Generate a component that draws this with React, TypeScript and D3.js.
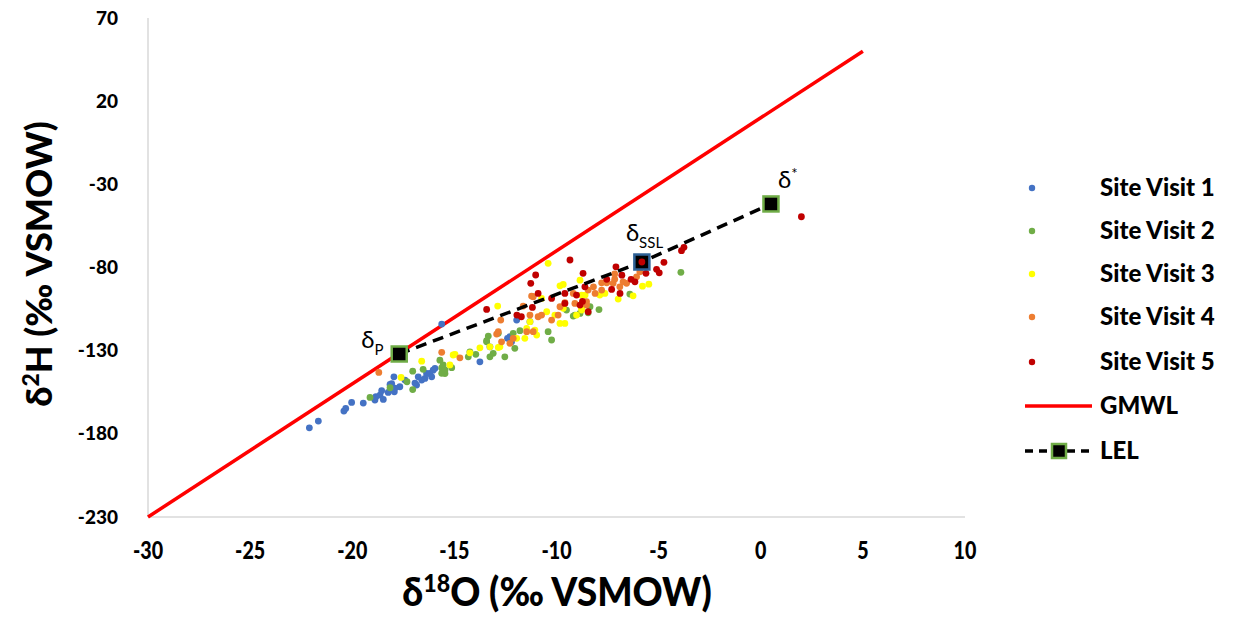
import React from "react";
import * as d3 from "d3";

// δ18O, δ2H pairs (‰ VSMOW)
const visit1: [number, number][] = [
  [-22.1, -176.4], [-21.66, -172.3], [-20.41, -166.3], [-20.32, -164.7], [-20.03, -161.1],
  [-19.46, -161.5], [-18.89, -159.7], [-18.84, -157.7], [-18.64, -156.7], [-18.56, -154.1],
  [-18.48, -159.3], [-18.24, -155.1], [-18.15, -150.3], [-17.96, -145.7], [-17.94, -154.7],
  [-17.67, -151.7], [-17.42, -147.7], [-18.07, -149.8], [-17.91, -152.5], [-16.85, -150.7],
  [-16.77, -145.7], [-16.6, -147.7], [-16.44, -146.7], [-16.36, -143.7], [-16.2, -143.7],
  [-16.11, -145.7], [-16.04, -141.7], [-15.95, -140.6], [-16.93, -149.5], [-15.62, -114.0],
  [-13.75, -136.7], [-13.26, -127.7], [-12.28, -121.6], [-12.2, -124.7], [-11.95, -111.6],
  [-11.3, -112.6], [-12.4, -122.6],
];
const visit2: [number, number][] = [
  [-19.13, -158.1], [-18.15, -152.3], [-17.32, -148.7], [-15.71, -135.7], [-16.53, -141.2],
  [-17.04, -142.3], [-15.62, -140.4], [-15.46, -143.8], [-17.04, -153.4], [-15.13, -140.2],
  [-15.62, -143.6], [-14.32, -133.7], [-13.34, -121.2], [-13.42, -124.7], [-13.1, -131.6],
  [-13.95, -132.2], [-11.79, -118.0], [-12.12, -119.6], [-12.85, -119.6], [-10.41, -118.6],
  [-10.24, -123.6], [-12.04, -128.6], [-14.24, -130.7], [-13.26, -133.7], [-12.53, -133.7],
  [-15.55, -138.6], [-15.46, -141.6], [-9.51, -105.6], [-9.1, -108.6], [-8.85, -107.6],
  [-8.36, -103.6], [-6.41, -96.0], [-7.92, -105.3], [-9.18, -109.2], [-8.45, -107.2],
  [-3.91, -82.9], [-13.42, -124.0],
];
const visit3: [number, number][] = [
  [-17.61, -146.1], [-16.6, -136.3], [-14.97, -132.2], [-15.22, -138.6], [-14.24, -131.3],
  [-13.75, -128.3], [-13.26, -127.7], [-12.85, -128.1], [-15.06, -132.6], [-12.77, -127.7],
  [-11.95, -122.6], [-11.06, -117.6], [-10.97, -120.6], [-11.55, -122.6], [-11.46, -116.6],
  [-11.3, -112.6], [-10.48, -106.6], [-10.08, -108.6], [-10.73, -98.6], [-12.88, -103.2],
  [-10.41, -77.5], [-9.83, -91.0], [-9.67, -90.2], [-9.83, -113.6], [-9.59, -113.6],
  [-9.67, -104.5], [-9.02, -108.6], [-8.85, -87.6], [-8.77, -96.6], [-8.6, -96.6],
  [-8.77, -104.5], [-7.88, -96.6], [-7.63, -95.6], [-6.98, -99.0], [-6.25, -97.0],
  [-5.79, -91.2], [-5.48, -90.0], [-8.77, -105.6],
];
const visit4: [number, number][] = [
  [-18.7, -143.1], [-15.62, -131.0], [-14.73, -134.3], [-12.93, -120.0], [-11.63, -103.2],
  [-11.14, -97.6], [-12.73, -111.6], [-10.9, -109.6], [-10.73, -108.6], [-10.24, -111.6],
  [-11.14, -118.6], [-12.12, -122.6], [-12.69, -124.7], [-11.22, -97.2], [-11.3, -108.6],
  [-11.46, -118.6], [-12.85, -118.6], [-12.28, -125.6], [-9.92, -108.6], [-9.83, -103.6],
  [-9.1, -101.6], [-8.53, -100.6], [-9.18, -95.6], [-9.59, -101.2], [-8.45, -93.6],
  [-8.19, -91.6], [-8.11, -95.6], [-7.79, -89.2], [-7.54, -89.2], [-7.23, -89.5],
  [-7.15, -87.0], [-6.9, -91.6], [-6.74, -88.6], [-6.57, -89.5], [-6.08, -85.6],
  [-5.92, -82.6], [-7.79, -93.6], [-8.53, -102.6], [-7.15, -83.9],
];
const visit5: [number, number][] = [
  [-13.42, -105.2], [-11.94, -108.6], [-11.72, -109.6], [-11.18, -104.0], [-11.02, -84.5],
  [-11.26, -89.5], [-10.9, -95.6], [-9.34, -75.5], [-10.24, -98.6], [-9.59, -101.6],
  [-9.02, -96.6], [-8.7, -83.5], [-8.61, -91.6], [-8.85, -102.6], [-8.45, -106.6],
  [-9.59, -95.6], [-8.73, -100.4], [-7.54, -87.1], [-7.09, -79.6], [-6.8, -84.6],
  [-6.35, -87.1], [-6.16, -88.6], [-7.3, -93.2], [-5.62, -83.5], [-5.1, -81.1],
  [-4.97, -83.2], [-4.74, -76.9], [-3.88, -69.9], [-3.76, -67.9], [-5.82, -76.7],
  [1.99, -49.5], [-6.89, -95.6],
];

const seriesNames = ["Site Visit 1", "Site Visit 2", "Site Visit 3", "Site Visit 4", "Site Visit 5"];
const seriesColors = ["#4472C4", "#70AD47", "#FFFF00", "#ED7D31", "#C00000"];
const seriesData = [visit1, visit2, visit3, visit4, visit5];

// GMWL: δ2H = 8 δ18O + 10
const gmwlX = [-30, 5];
// LEL: δP, δSSL, δ*
const lelPoints: [number, number][] = [[-17.7, -132], [-5.82, -76.7], [0.5, -41.8]];

const xTicks = [-30, -25, -20, -15, -10, -5, 0, 5, 10];
const yTicks = [70, 20, -30, -80, -130, -180, -230];

const W = 1238, H = 620;
const left = 148, right = 965, top = 18, bottom = 517;
const font = "Lato, 'Open Sans', sans-serif";

export default function App() {
  const x = d3.scaleLinear().domain([-30, 10]).range([left, right]);
  const y = d3.scaleLinear().domain([-230, 70]).range([bottom, top]);
  const line = d3.line<[number, number]>().x(d => x(d[0])).y(d => y(d[1]));
  const gmwl: [number, number][] = gmwlX.map(v => [v, 8 * v + 10]);
  const sq = 15;
  const lelStroke = ["#70AD47", "#2E6196", "#70AD47"];

  const legendX = 1032, legendTextX = 1100;
  const legendY = [188, 231, 274, 317, 362, 406, 451];
  const lfs = 24;

  return (
    <svg width={W} height={H} style={{ position: "absolute", left: 0, top: 0, background: "#fff" }}>
      {/* axes */}
      <line x1={left} x2={left} y1={top} y2={bottom} stroke="#d9d9d9" strokeWidth={1.5} />
      <line x1={left} x2={right} y1={bottom} y2={bottom} stroke="#d9d9d9" strokeWidth={1.5} />
      {yTicks.map(t => (
        <text key={t} x={118} y={y(t)} dy="0.35em" textAnchor="end" fontFamily={font}
          fontWeight={900} fontSize={19}>{t}</text>
      ))}
      {xTicks.map(t => (
        <text key={t} transform={`translate(${x(t)},${559}) scale(0.82,1)`} textAnchor="middle"
          fontFamily={font} fontWeight={900} fontSize={24}>{t}</text>
      ))}
      <text transform={`translate(${557},${606}) scale(0.93,1)`} textAnchor="middle" fontFamily={font}
        fontWeight={900} fontSize={40}>
        δ<tspan fontSize={25} dy={-14}>18</tspan><tspan dy={14}>O (‰ VSMOW)</tspan>
      </text>
      <text transform={`translate(${52},${264}) rotate(-90)`} textAnchor="middle" fontFamily={font}
        fontWeight={900} fontSize={36}>
        δ<tspan fontSize={23} dy={-13}>2</tspan><tspan dy={13}>H (‰ VSMOW)</tspan>
      </text>

      {/* GMWL */}
      <path d={line(gmwl) ?? ""} fill="none" stroke="#FF0000" strokeWidth={3.5} />

      {/* scatter */}
      {seriesData.map((s, i) => (
        <g key={i} fill={seriesColors[i]}>
          {s.map((d, j) => <circle key={j} cx={x(d[0])} cy={y(d[1])} r={3.4} />)}
        </g>
      ))}

      {/* LEL */}
      <path d={line(lelPoints) ?? ""} fill="none" stroke="#000" strokeWidth={3.5} strokeDasharray="11,7" />
      {lelPoints.map((d, i) => (
        <rect key={i} x={x(d[0]) - sq / 2} y={y(d[1]) - sq / 2} width={sq} height={sq}
          fill="#000" stroke={lelStroke[i]} strokeWidth={2.5} />
      ))}
      <circle cx={x(visit5[29][0])} cy={y(visit5[29][1])} r={3.4} fill="#C00000" />

      {/* point labels */}
      <text x={x(lelPoints[0][0]) - 38} y={y(lelPoints[0][1]) - 6} fontFamily={font} fontSize={24}>
        δ<tspan fontSize={15} dy={7}>P</tspan>
      </text>
      <text x={x(lelPoints[1][0]) - 16} y={y(lelPoints[1][1]) - 21} fontFamily={font} fontSize={24}>
        δ<tspan fontSize={15} dy={7}>SSL</tspan>
      </text>
      <text x={x(lelPoints[2][0]) + 7} y={y(lelPoints[2][1]) - 16} fontFamily={font} fontSize={24}>
        δ<tspan fontSize={15} dy={-9}>*</tspan>
      </text>

      {/* legend */}
      {seriesNames.map((n, i) => (
        <g key={n}>
          <circle cx={legendX} cy={legendY[i]} r={3.2} fill={seriesColors[i]} />
          <text x={legendTextX} y={legendY[i]} dy="0.35em" fontFamily={font} fontWeight={900}
            fontSize={lfs}>{n}</text>
        </g>
      ))}
      <line x1={1025} x2={1092} y1={legendY[5]} y2={legendY[5]} stroke="#FF0000" strokeWidth={3.5} />
      <text x={legendTextX} y={legendY[5]} dy="0.35em" fontFamily={font} fontWeight={900} fontSize={lfs}>GMWL</text>
      <line x1={1025} x2={1092} y1={legendY[6]} y2={legendY[6]} stroke="#000" strokeWidth={3.5}
        strokeDasharray="8,6" />
      <rect x={1059 - 7} y={legendY[6] - 7} width={14} height={14} fill="#000" stroke="#70AD47" strokeWidth={2.5} />
      <text x={legendTextX} y={legendY[6]} dy="0.35em" fontFamily={font} fontWeight={900} fontSize={lfs}>LEL</text>
    </svg>
  );
}
